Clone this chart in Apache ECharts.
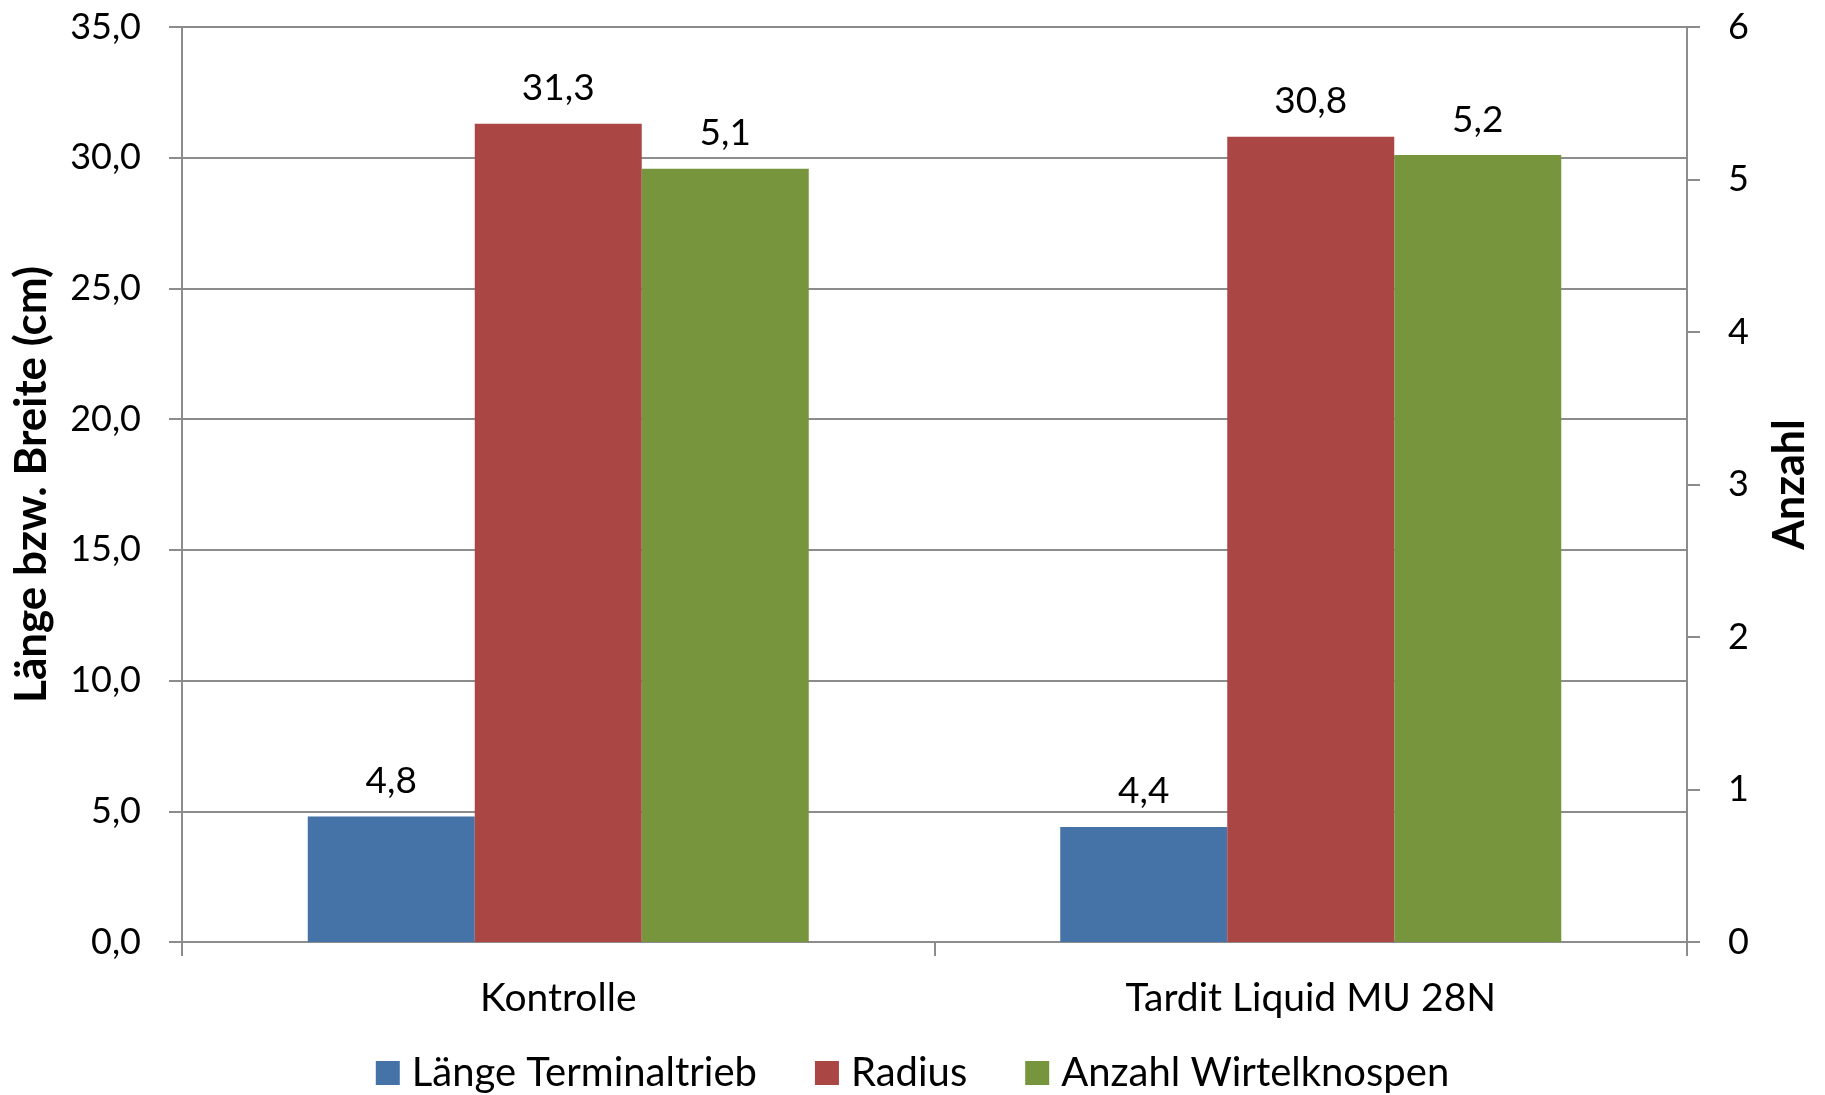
<!DOCTYPE html>
<html>
<head>
<meta charset="utf-8">
<script src="https://cdn.jsdelivr.net/npm/echarts@6/dist/echarts.min.js"></script>
<style>
  html, body { margin: 0; padding: 0; background: #fff; }
  #chart { width: 1825px; height: 1095px; }
</style>
</head>
<body>
<div id="chart"></div>
<script>
// Kategorien und Messwerte
var categories = ['Kontrolle', 'Tardit Liquid MU 28N']
var laengeTerminaltrieb = [4.8, 4.4]
var radius = [31.3, 30.8]
var anzahlWirtelknospen = [5.07, 5.16]

var gridColor = '#8c8c8c'
var font = 'Lato'

function komma(v) {
  return Number(v).toFixed(1).replace('.', ',')
}

var barLabel = {
  show: true,
  position: 'top',
  distance: 17,
  color: '#000',
  fontFamily: font,
  fontSize: 37,
  formatter: function (p) { return komma(p.value) }
}

const chart = echarts.init(document.getElementById('chart'))
var options = {
  backgroundColor: '#fff',
  animation: false,
  textStyle: { fontFamily: font },
  grid: {
    left: 182,
    right: 138,
    top: 27,
    bottom: 153,
    containLabel: false
  },
  legend: {
    bottom: -3,
    left: 'center',
    itemWidth: 24,
    itemHeight: 24,
    itemGap: 58,
    icon: 'rect',
    textStyle: {
      color: '#000',
      fontFamily: font,
      fontSize: 40,
      padding: [0, 0, 0, 7]
    },
    data: ['Länge Terminaltrieb', 'Radius', 'Anzahl Wirtelknospen']
  },
  xAxis: {
    type: 'category',
    data: categories,
    axisLine: { lineStyle: { color: gridColor, width: 2 } },
    axisTick: { show: true, length: 14, lineStyle: { color: gridColor, width: 2 } },
    axisLabel: {
      color: '#000',
      fontFamily: font,
      fontSize: 39,
      margin: 37
    }
  },
  yAxis: [{
    type: 'value',
    min: 0,
    max: 35,
    interval: 5,
    name: 'Länge bzw. Breite (cm)',
    nameLocation: 'middle',
    nameGap: 128,
    nameTextStyle: {
      color: '#000',
      fontFamily: font,
      fontWeight: 'bold',
      fontSize: 44
    },
    axisLine: { show: true, lineStyle: { color: gridColor, width: 2 } },
    axisTick: { show: true, length: 13, lineStyle: { color: gridColor, width: 2 } },
    splitLine: { show: true, lineStyle: { color: gridColor, width: 2 } },
    axisLabel: {
      color: '#000',
      fontFamily: font,
      fontSize: 36,
      margin: 41,
      formatter: function (v) { return komma(v) }
    }
  }, {
    type: 'value',
    min: 0,
    max: 6,
    interval: 1,
    position: 'right',
    name: 'Anzahl',
    nameLocation: 'middle',
    nameRotate: 90,
    nameGap: 82,
    nameTextStyle: {
      color: '#000',
      fontFamily: font,
      fontWeight: 'bold',
      fontSize: 43
    },
    axisLine: { show: true, lineStyle: { color: gridColor, width: 2 } },
    axisTick: { show: true, length: 13, lineStyle: { color: gridColor, width: 2 } },
    splitLine: { show: false },
    axisLabel: {
      color: '#000',
      fontFamily: font,
      fontSize: 36,
      margin: 41
    }
  }],
  series: [{
    name: 'Länge Terminaltrieb',
    type: 'bar',
    yAxisIndex: 0,
    barWidth: 167,
    barGap: '0%',
    itemStyle: { color: '#4573a7' },
    label: barLabel,
    data: laengeTerminaltrieb
  }, {
    name: 'Radius',
    type: 'bar',
    yAxisIndex: 0,
    barWidth: 167,
    barGap: '0%',
    itemStyle: { color: '#aa4644' },
    label: barLabel,
    data: radius
  }, {
    name: 'Anzahl Wirtelknospen',
    type: 'bar',
    yAxisIndex: 1,
    barWidth: 167,
    barGap: '0%',
    itemStyle: { color: '#77953c' },
    label: barLabel,
    data: anzahlWirtelknospen
  }]
}
chart.setOption(options)
</script>
</body>
</html>
